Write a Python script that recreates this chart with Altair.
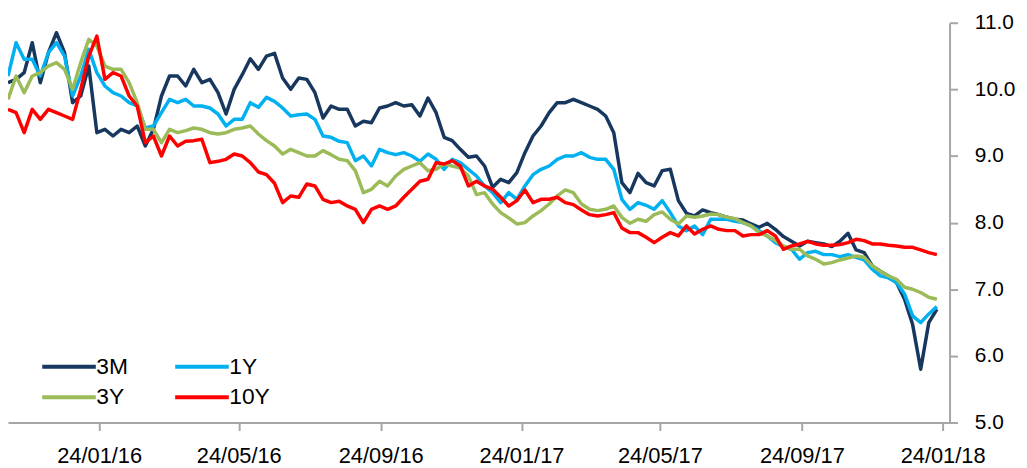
import altair as alt
import pandas as pd

# weekly observation dates
dates = pd.date_range("2015-11-06", periods=116, freq="7D").strftime("%Y-%m-%dT00:00:00").tolist()

series_names = ["3M", "1Y", "3Y", "10Y"]
series_colors = ["#17375E", "#00B0F0", "#9BBB59", "#FF0000"]

m3 = [10.1, 10.15, 10.25, 10.7, 10.1, 10.55, 10.85, 10.55, 9.8, 9.9,
      10.35, 9.35, 9.4, 9.3, 9.4, 9.35, 9.45, 9.15, 9.4, 9.9,
      10.2, 10.2, 10.05, 10.3, 10.1, 10.15, 9.95, 9.63, 10.0, 10.22,
      10.46, 10.3, 10.5, 10.54, 10.17, 10.0, 10.17, 10.15, 9.95, 9.57,
      9.75, 9.7, 9.7, 9.45, 9.52, 9.5, 9.72, 9.75, 9.8, 9.75,
      9.77, 9.6, 9.87, 9.65, 9.28, 9.23, 9.1, 8.98, 9.0, 8.85,
      8.53, 8.65, 8.6, 8.75, 9.05, 9.3, 9.45, 9.65, 9.8, 9.8,
      9.85, 9.8, 9.75, 9.7, 9.6, 9.35, 8.6, 8.45, 8.74, 8.6,
      8.55, 8.78, 8.8, 8.33, 8.14, 8.1, 8.19, 8.15, 8.12, 8.08,
      8.05, 8.04, 7.98, 7.93, 7.99, 7.9, 7.79, 7.72, 7.65, 7.72,
      7.7, 7.68, 7.64, 7.72, 7.84, 7.59, 7.55, 7.35, 7.27, 7.2,
      7.1, 6.85, 6.47, 5.8, 6.5, 6.7]

y1 = [10.2, 10.7, 10.45, 10.45, 10.2, 10.55, 10.7, 10.5, 9.9, 10.2,
      10.6, 10.25, 10.05, 9.95, 9.9, 9.8, 9.75, 9.42, 9.45, 9.65,
      9.85, 9.8, 9.85, 9.75, 9.75, 9.72, 9.63, 9.45, 9.55, 9.55,
      9.8, 9.73, 9.88, 9.82, 9.72, 9.6, 9.62, 9.63, 9.55, 9.3,
      9.28, 9.22, 9.2, 8.93, 9.0, 8.85, 9.1, 9.05, 9.02, 9.05,
      9.0, 8.92, 9.03, 8.95, 8.8, 8.95, 8.9, 8.8, 8.7, 8.55,
      8.45, 8.3, 8.45, 8.35, 8.55, 8.72, 8.8, 8.85, 8.95, 9.0,
      9.0, 9.05, 8.98, 8.95, 8.95, 8.8, 8.35, 8.2, 8.3, 8.26,
      8.2, 8.33, 8.15, 7.95, 7.88, 7.95, 7.82, 8.05, 8.05, 8.05,
      8.02, 8.0, 7.95, 7.88, 7.8, 7.7, 7.64, 7.6, 7.45, 7.55,
      7.57, 7.52, 7.52, 7.49, 7.52, 7.48, 7.44, 7.3, 7.2, 7.17,
      7.1, 6.93, 6.6, 6.5, 6.63, 6.74]

y3 = [9.85, 10.2, 9.95, 10.2, 10.25, 10.35, 10.4, 10.3, 10.0, 10.4,
      10.75, 10.65, 10.35, 10.3, 10.3, 10.1, 9.8, 9.4, 9.4, 9.2,
      9.4, 9.35, 9.38, 9.42, 9.4, 9.35, 9.33, 9.35, 9.4, 9.42,
      9.45, 9.33, 9.23, 9.15, 9.03, 9.1, 9.05, 9.0, 9.0, 9.08,
      9.02, 8.95, 8.93, 8.78, 8.45, 8.5, 8.62, 8.55, 8.7, 8.8,
      8.85, 8.9, 8.78, 8.8, 8.88, 8.85, 8.82, 8.7, 8.42, 8.45,
      8.28, 8.15, 8.07, 7.98, 8.0, 8.1, 8.18, 8.28, 8.4, 8.49,
      8.45, 8.28, 8.2, 8.18, 8.2, 8.25, 8.08, 7.99, 8.05, 8.02,
      8.12, 8.16, 8.05, 7.98, 8.1, 8.08, 8.1, 8.13, 8.12, 8.08,
      8.06, 8.0, 7.95, 7.85, 7.8, 7.73, 7.65, 7.6, 7.6, 7.5,
      7.45, 7.38, 7.4, 7.44, 7.47, 7.5, 7.48, 7.35, 7.27, 7.2,
      7.15, 7.03, 7.0, 6.95, 6.88, 6.85]

y10 = [9.7, 9.65, 9.35, 9.7, 9.55, 9.7, 9.65, 9.6, 9.55, 10.0,
       10.5, 10.8, 10.15, 10.25, 10.2, 9.9, 9.75, 9.2, 9.3, 9.0,
       9.3, 9.15, 9.22, 9.23, 9.25, 8.9, 8.92, 8.95, 9.03, 9.0,
       8.9, 8.76, 8.72, 8.59, 8.3, 8.4, 8.38, 8.58, 8.55, 8.35,
       8.3, 8.32, 8.25, 8.2, 8.0, 8.2, 8.25, 8.2, 8.25, 8.38,
       8.5, 8.62, 8.65, 8.9, 8.88, 8.93, 8.85, 8.55, 8.62, 8.55,
       8.5, 8.38, 8.25, 8.33, 8.49, 8.3, 8.35, 8.35, 8.38, 8.3,
       8.27, 8.19, 8.12, 8.1, 8.12, 8.15, 7.92, 7.85, 7.85, 7.78,
       7.7, 7.78, 7.85, 7.8, 7.95, 7.83, 7.9, 7.95, 7.9, 7.88,
       7.88, 7.8, 7.82, 7.82, 7.88, 7.8, 7.6, 7.65, 7.68, 7.72,
       7.68, 7.66, 7.66, 7.67, 7.7, 7.75, 7.73, 7.68, 7.68, 7.66,
       7.65, 7.63, 7.63, 7.59, 7.55, 7.52]

x_tick_dates = [(2016, 1, 24), (2016, 5, 24), (2016, 9, 24), (2017, 1, 24),
                (2017, 5, 24), (2017, 9, 24), (2018, 1, 24)]
y_ticks = [5, 6, 7, 8, 9, 10, 11]

rows = []
for name, vals in zip(series_names, [m3, y1, y3, y10]):
    for d, v in zip(dates, vals):
        rows.append({"date": d, "series": name, "value": v})
df = pd.DataFrame(rows)

FONT = "Liberation Sans, Arial, sans-serif"
AXIS_GRAY = "#A6A6A6"

x_axis = alt.Axis(
    values=[alt.DateTime(year=y, month=m, date=d) for (y, m, d) in x_tick_dates],
    format="%d/%m/%y", title=None, grid=False,
    labelFont=FONT, labelFontSize=22, labelColor="#000000",
    labelPadding=15, tickSize=8, tickWidth=2, tickColor=AXIS_GRAY,
    domainColor=AXIS_GRAY, domainWidth=2, labelFlush=False,
)
y_axis = alt.Axis(
    orient="right", values=y_ticks, format=".1f", title=None, grid=False,
    labelFont=FONT, labelFontSize=21, labelColor="#000000",
    labelPadding=17, tickSize=8, tickWidth=2, tickColor=AXIS_GRAY,
    domainColor=AXIS_GRAY, domainWidth=2, labelAlign="left",
)

legend = alt.Legend(
    orient="none", legendX=50, legendY=335, columns=2, direction="horizontal",
    title=None,
    symbolType="M-3,0H3", symbolSize=324, symbolStrokeWidth=4,
    labelFont=FONT, labelFontSize=23, labelColor="#000000",
    labelOffset=16, columnPadding=39, rowPadding=7, padding=0, labelLimit=0,
)

chart = alt.Chart(df).mark_line(strokeWidth=3.5, strokeJoin="round").encode(
    x=alt.X("date:T", axis=x_axis,
            scale=alt.Scale(domain=[alt.DateTime(year=2015, month=11, date=6),
                                    alt.DateTime(year=2018, month=1, date=30)],
                            nice=False)),
    y=alt.Y("value:Q", axis=y_axis, scale=alt.Scale(domain=[5, 11], nice=False)),
    color=alt.Color("series:N", sort=series_names,
                    scale=alt.Scale(domain=series_names, range=series_colors),
                    legend=legend),
    order=alt.Order("date:T"),
).properties(
    width=949, height=403,
    padding={"left": 0, "top": 13, "right": 70, "bottom": 45},
    autosize=alt.AutoSizeParams(type="none"),
    background="#FFFFFF",
).configure_view(stroke=None)

chart.save("out.html", embed_options={"renderer": "svg", "actions": False})
